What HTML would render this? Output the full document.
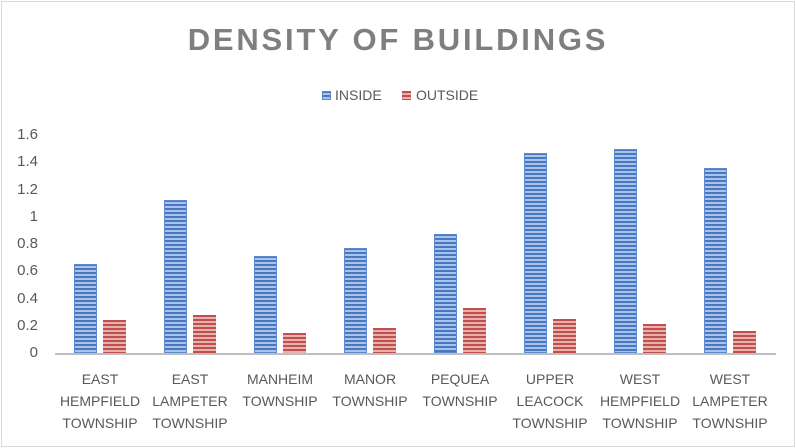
<!DOCTYPE html>
<html><head><style>
body{margin:0;width:796px;height:448px;background:#fff;overflow:hidden;font-family:"Liberation Sans",sans-serif}
.frame{position:absolute;left:1px;top:1px;width:792px;height:444px;border:1px solid #d9d9d9}
.t{position:absolute;color:#595959;font-size:15px}
.bar{position:absolute;width:23px}
.in{background:repeating-linear-gradient(180deg,#4a78c0 0px,#4a78c0 2px,#a9c3ea 2px,#a9c3ea 4px);box-shadow:inset 0 0 0 1px #5c8ad0}
.out{background:repeating-linear-gradient(180deg,#c0504d 0px,#c0504d 2px,#eab0ae 2px,#eab0ae 4px)}
.cat{position:absolute;width:96px;text-align:center;color:#595959;font-size:14px;line-height:22px;top:368px}
</style></head><body>
<div class="frame"></div>
<div style="position:absolute;left:0;width:796px;top:22px;text-align:center;font-size:31px;font-weight:bold;letter-spacing:2.8px;color:#7f7f7f">DENSITY OF BUILDINGS</div>
<div style="position:absolute;left:322px;top:91px;width:9px;height:9px" class="in"></div>
<div class="t" style="left:335px;top:87px;font-size:14px">INSIDE</div>
<div style="position:absolute;left:402px;top:91px;width:9px;height:9px" class="out"></div>
<div class="t" style="left:416px;top:87px;font-size:14px">OUTSIDE</div>
<div id="ax"></div>
<div style="position:absolute;left:55px;top:353px;width:721px;height:2px;background:#bfbfbf"></div>
<script>
var ax=document.getElementById('ax'),h='';
var labs=['0','0.2','0.4','0.6','0.8','1','1.2','1.4','1.6'];
for(var i=0;i<9;i++){var y=353-i*0.2*136.25;h+='<div class="t" style="right:758px;top:'+(y-9)+'px">'+labs[i]+'</div>';}
var a=[0.65,1.12,0.71,0.77,0.87,1.47,1.50,1.36],b=[0.24,0.28,0.15,0.18,0.33,0.25,0.21,0.16];
var c=[['EAST','HEMPFIELD','TOWNSHIP'],['EAST','LAMPETER','TOWNSHIP'],['MANHEIM','TOWNSHIP'],['MANOR','TOWNSHIP'],['PEQUEA','TOWNSHIP'],['UPPER','LEACOCK','TOWNSHIP'],['WEST','HEMPFIELD','TOWNSHIP'],['WEST','LAMPETER','TOWNSHIP']];
for(var k=0;k<8;k++){var cx=100+k*90;var ha=a[k]*136.25,hb=b[k]*136.25;
h+='<div class="bar in" style="left:'+(cx-26)+'px;top:'+(353-ha)+'px;height:'+ha+'px"></div>';
h+='<div class="bar out" style="left:'+(cx+3)+'px;top:'+(353-hb)+'px;height:'+hb+'px"></div>';
h+='<div class="cat" style="left:'+(cx-48)+'px">'+c[k].join('<br>')+'</div>';}
ax.innerHTML=h;
</script>
</body></html>
